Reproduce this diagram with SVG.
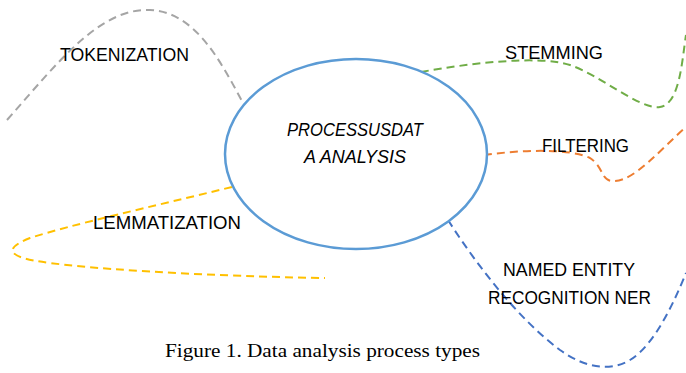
<svg xmlns="http://www.w3.org/2000/svg" width="686" height="373" viewBox="0 0 686 373">
<style>
  .lbl { font-family: "Liberation Sans", Arial, sans-serif; font-size: 19px; fill: #000; }
  .ctr { font-family: "Liberation Sans", Arial, sans-serif; font-size: 19px; font-style: italic; fill: #000; text-anchor: middle; }
  .cap { font-family: "Liberation Serif", "Times New Roman", serif; font-size: 18px; fill: #000; }
  .c { fill: none; stroke-width: 2; stroke-dasharray: 8 5; }
</style>
<rect width="686" height="373" fill="#fff"/>
<g id="connectors">
  <path class="c" stroke="#A5A5A5" d="M7,120 C60,60 100,8 150,10 C195,12 220,60 243,103"/>
  <path class="c" stroke="#70AD47" d="M421,72 C470,63 540,55 570,65 C600,75 640,110 660,107 C680,104 682,60 686,35"/>
  <path class="c" stroke="#ED7D31" d="M484,155 C520,150 570,148 590,158 C605,168 600,182 615,181 C635,180 660,150 686,127"/>
  <path class="c" stroke="#FFC000" d="M232,187 C150,207 70,225 30,238 C0,250 10,258 50,263 C120,272 250,277 325,278"/>
  <path class="c" stroke="#4472C4" d="M448,220 C480,270 520,320 560,350 C585,368 610,372 630,360 C655,345 675,300 686,273"/>
</g>
<g id="center">
  <ellipse cx="356" cy="154" rx="131" ry="95" fill="#fff" stroke="#5B9BD5" stroke-width="2.5"/>
  <text class="ctr" x="355" y="136" textLength="136" lengthAdjust="spacingAndGlyphs">PROCESSUSDAT</text>
  <text class="ctr" x="355" y="163" textLength="102" lengthAdjust="spacingAndGlyphs">A ANALYSIS</text>
</g>
<g id="tokenization"><text class="lbl" x="60" y="61" textLength="129" lengthAdjust="spacingAndGlyphs">TOKENIZATION</text></g>
<g id="stemming"><text class="lbl" x="505" y="59" textLength="98" lengthAdjust="spacingAndGlyphs">STEMMING</text></g>
<g id="filtering"><text class="lbl" x="542" y="152" textLength="87" lengthAdjust="spacingAndGlyphs">FILTERING</text></g>
<g id="lemmatization"><text class="lbl" x="93" y="229" textLength="148" lengthAdjust="spacingAndGlyphs">LEMMATIZATION</text></g>
<g id="ner">
  <text class="lbl" x="503" y="276" textLength="132" lengthAdjust="spacingAndGlyphs">NAMED ENTITY</text>
  <text class="lbl" x="488" y="304" textLength="163" lengthAdjust="spacingAndGlyphs">RECOGNITION NER</text>
</g>
<text class="cap" x="165" y="357" textLength="315" lengthAdjust="spacingAndGlyphs">Figure 1. Data analysis process types</text>
</svg>
